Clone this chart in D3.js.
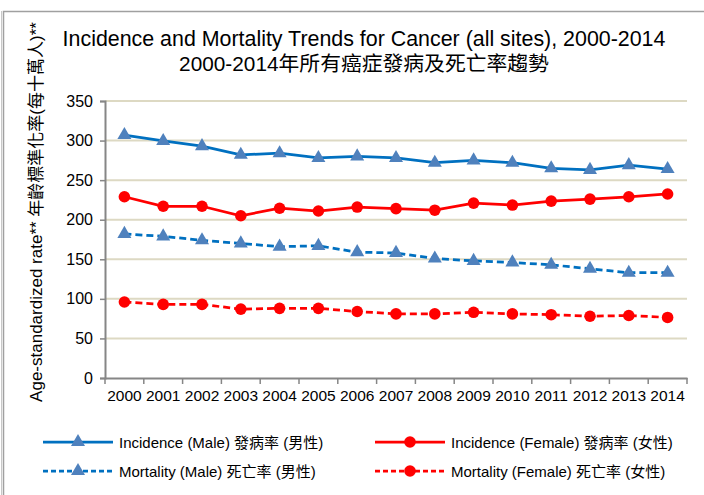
<!DOCTYPE html>
<html><head><meta charset="utf-8">
<script src="https://cdn.jsdelivr.net/npm/d3@7"></script>
<style>
body{margin:0;background:#fff;}
text{font-family:"Liberation Sans",Arial,"Noto Sans CJK TC",sans-serif;}
</style></head>
<body><svg id="c" width="704" height="495"></svg>
<script>
const years = ["2000","2001","2002","2003","2004","2005","2006","2007","2008","2009","2010","2011","2012","2013","2014"];
const incidenceMale   = [307,299.5,293,282,284,278,280,278,272,275,272,265,263,269,264];
const incidenceFemale = [229,217,217,205,214.5,211,216,214,212,221,218.5,223.5,226,229,232.5];
const mortalityMale   = [182,179,174,170,166,167,159,158,151,148,146,143,138,133,133];
const mortalityFemale = [96,93,93,87,88,88,84,81,81,83,81,80,78,79,76.5];
const yTicks = [0,50,100,150,200,250,300,350];
const seriesNames = ["Incidence (Male) 發病率 (男性)","Incidence (Female) 發病率 (女性)","Mortality (Male) 死亡率 (男性)","Mortality (Female) 死亡率 (女性)"];

const series = [
  {name:seriesNames[0], values:incidenceMale, line:"#0070C0", marker:"#4F81BD", shape:"tri", dash:null},
  {name:seriesNames[1], values:incidenceFemale, line:"#FF0000", marker:"#FF0000", shape:"circle", dash:null},
  {name:seriesNames[2], values:mortalityMale, line:"#0070C0", marker:"#4F81BD", shape:"tri", dash:"7,4"},
  {name:seriesNames[3], values:mortalityFemale, line:"#FF0000", marker:"#FF0000", shape:"circle", dash:"7,4"}
];

const svg = d3.select("#c");
// outer frame
svg.append("rect").attr("x",3.5).attr("y",11.5).attr("width",760).attr("height",560)
  .attr("fill","none").attr("stroke","#a0a0a0").attr("stroke-width",1.5);
svg.append("line").attr("x1",1.5).attr("x2",1.5).attr("y1",11).attr("y2",495).attr("stroke","#c8c8c8").attr("stroke-width",1);

const pLeft=105, pRight=687, pTop=101, pBottom=378;
const x = d3.scaleBand().domain(years).range([pLeft,pRight]);
const y = d3.scaleLinear().domain([0,350]).range([pBottom,pTop]);

// gridlines
svg.append("g").selectAll("line").data(yTicks.filter(d=>d>0)).join("line")
  .attr("x1",pLeft).attr("x2",pRight).attr("y1",d=>y(d)).attr("y2",d=>y(d))
  .attr("stroke","#DDD9C3").attr("stroke-width",2);

// y axis
const ya = svg.append("g").attr("transform",`translate(${pLeft},0)`)
  .call(d3.axisLeft(y).tickValues(yTicks).tickSize(5).tickPadding(7));
ya.select(".domain").attr("stroke","#868686").attr("stroke-width",2);
ya.selectAll(".tick line").attr("stroke","#868686").attr("stroke-width",1.5);
ya.selectAll("text").attr("font-size",16).attr("fill","#000").attr("font-family","Liberation Sans, Arial");

// x axis
const xa = svg.append("g").attr("transform",`translate(0,${pBottom})`)
  .call(d3.axisBottom(x).tickSize(0).tickPadding(12));
xa.select(".domain").attr("stroke","#868686").attr("stroke-width",2);
xa.selectAll("text").attr("font-size",15.5).attr("fill","#000").attr("font-family","Liberation Sans, Arial");
// boundary ticks
const bounds = years.map(d=>x(d)).concat([x(years[years.length-1])+x.bandwidth()]);
svg.append("g").selectAll("line").data(bounds).join("line")
  .attr("x1",d=>d).attr("x2",d=>d).attr("y1",pBottom).attr("y2",pBottom+6)
  .attr("stroke","#868686").attr("stroke-width",1.5);

const cx = d=>x(d)+x.bandwidth()/2;
const triPath = d3.symbol().type(d3.symbolTriangle).size(85);
function marker(g, s, px, py){
  if(s.shape==="tri"){
    g.append("path").attr("d",triPath()).attr("transform",`translate(${px},${py})`).attr("fill",s.marker);
  } else {
    g.append("circle").attr("cx",px).attr("cy",py).attr("r",5.8).attr("fill",s.marker);
  }
}

const line = d3.line().x((d,i)=>cx(years[i])).y(d=>y(d));
series.forEach(s=>{
  svg.append("path").datum(s.values).attr("d",line).attr("fill","none")
    .attr("stroke",s.line).attr("stroke-width",2.75).attr("stroke-dasharray",s.dash);
  const g = svg.append("g");
  s.values.forEach((v,i)=>marker(g,s,cx(years[i]),y(v)));
});

// titles
svg.append("text").attr("x",364).attr("y",46).attr("text-anchor","middle").attr("font-size",21.4)
  .attr("fill","#000").text("Incidence and Mortality Trends for Cancer (all sites), 2000-2014");
svg.append("text").attr("x",364).attr("y",71).attr("text-anchor","middle").attr("font-size",20.8)
  .attr("fill","#000").text("2000-2014年所有癌症發病及死亡率趨勢");

// y label
svg.append("text").attr("transform","translate(42,212) rotate(-90)").attr("text-anchor","middle")
  .attr("font-size",17).attr("fill","#000").text("Age-standardized rate** 年齡標準化率(每十萬人)**");

// legend
const legPos = [[43,442],[375,442],[43,471],[375,471]];
series.forEach((s,i)=>{
  const [lx,ly]=legPos[i];
  const g = svg.append("g");
  g.append("line").attr("x1",lx).attr("x2",lx+70).attr("y1",ly).attr("y2",ly)
    .attr("stroke",s.line).attr("stroke-width",2.75).attr("stroke-dasharray",s.dash ? "5,3" : null);
  marker(g,s,lx+35,ly);
  g.append("text").attr("x",lx+76).attr("y",ly+5.5).attr("font-size",15).attr("fill","#000").text(s.name);
});
</script></body></html>
